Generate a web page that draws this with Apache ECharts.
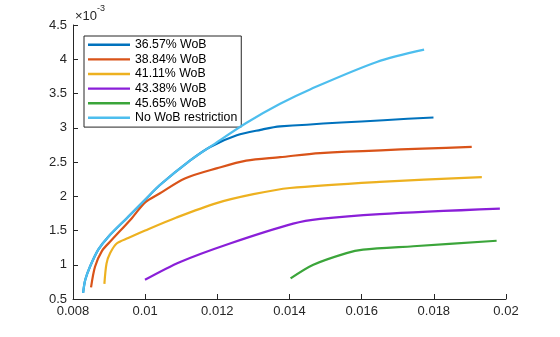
<!DOCTYPE html>
<html>
<head>
<meta charset="utf-8">
<script src="https://cdn.jsdelivr.net/npm/echarts@6/dist/echarts.min.js"></script>
<style>html,body{margin:0;padding:0;background:#fff}#c{width:560px;height:337px}</style>
</head>
<body>
<div id="c"></div>
<script>
// values on y are in units of 1e-3 (axis shows x10^-3)
const seriesNames = ['36.57% WoB','38.84% WoB','41.11% WoB','43.38% WoB','45.65% WoB','No WoB restriction'];
const seriesColors = ['#0072BD','#D95319','#EDB120','#8A1FD8','#3BA53A','#4DBEEE'];

const wob3657 = [[0.00828,0.59],[0.00834,0.78],[0.00847,0.97],[0.0087,1.22],[0.00898,1.41],[0.00953,1.70],[0.0100,1.95],[0.0104,2.16],[0.01124,2.52],[0.0118,2.72],[0.01254,2.89],[0.0132,2.97],[0.01374,3.02],[0.01799,3.15]];
const wob3884 = [[0.0085,0.67],[0.00861,0.97],[0.0088,1.20],[0.00907,1.36],[0.00963,1.68],[0.0100,1.91],[0.0104,2.04],[0.0111,2.26],[0.0120,2.41],[0.0128,2.52],[0.01374,2.57],[0.01485,2.63],[0.01905,2.72]];
const wob4111 = [[0.00887,0.72],[0.00893,1.02],[0.00903,1.17],[0.00921,1.31],[0.00953,1.39],[0.0100,1.50],[0.01087,1.69],[0.01198,1.90],[0.0130,2.03],[0.01401,2.12],[0.0165,2.21],[0.01933,2.28]];
const wob4338 = [[0.009995,0.78],[0.01097,1.04],[0.01235,1.31],[0.0141,1.60],[0.01485,1.67],[0.0165,1.74],[0.01983,1.82]];
const wob4565 = [[0.01403,0.80],[0.01466,1.0],[0.01558,1.17],[0.01604,1.22],[0.01743,1.27],[0.01974,1.35]];
const noRestriction = [[0.00828,0.59],[0.00834,0.78],[0.00847,0.97],[0.0087,1.22],[0.00898,1.41],[0.00953,1.70],[0.0100,1.95],[0.0104,2.16],[0.01124,2.52],[0.01188,2.75],[0.0128,3.07],[0.01374,3.35],[0.01457,3.56],[0.01642,3.96],[0.01773,4.14]];

const allData = [wob3657, wob3884, wob4111, wob4338, wob4565, noRestriction];
const xTicks = {min:0.008, max:0.02, interval:0.002};
const yTicks = {min:0.5, max:4.5, interval:0.5};

const font = 'Liberation Sans, Arial, Helvetica, sans-serif';
const ink = '#262626';

const chart = echarts.init(document.getElementById('c'), null, {renderer:'canvas'});
chart.setOption({
  animation:false,
  backgroundColor:'#fff',
  textStyle:{fontFamily:font},
  grid:{left:73, right:54, top:25, bottom:38},
  xAxis:{
    type:'value', min:xTicks.min, max:xTicks.max, interval:xTicks.interval,
    axisLine:{show:true, lineStyle:{color:ink, width:1}},
    axisTick:{show:true, inside:true, length:5, lineStyle:{color:ink}},
    splitLine:{show:false},
    axisLabel:{color:ink, fontSize:13, fontFamily:font, margin:6,
      formatter:v=>String(+v.toFixed(3))}
  },
  yAxis:{
    type:'value', min:yTicks.min, max:yTicks.max, interval:yTicks.interval,
    axisLine:{show:true, lineStyle:{color:ink, width:1}},
    axisTick:{show:true, inside:true, length:5, lineStyle:{color:ink}},
    splitLine:{show:false},
    axisLabel:{color:ink, fontSize:13, fontFamily:font, margin:6,
      formatter:v=>String(+v.toFixed(1))}
  },
  legend:{
    left:84, top:36, orient:'vertical',
    data:seriesNames.map(n=>({name:n, icon:'rect'})),
    itemWidth:42, itemHeight:2.4, itemGap:0,
    padding:[1.5,4,2,4],
    borderColor:ink, borderWidth:1, backgroundColor:'#fff',
    textStyle:{fontSize:12.3, color:'#000', fontFamily:font, lineHeight:14.6},
    itemTextGap:5
  },
  graphic:[{
    type:'text', left:75, top:4,
    style:{
      text:'{a|×10}{b|-3}',
      rich:{
        a:{fontSize:13, fill:ink, fontFamily:font, padding:[6,0,0,0]},
        b:{fontSize:9, fill:ink, fontFamily:font, verticalAlign:'top', padding:[0,0,6,0]}
      }
    }
  }],
  series: seriesNames.map((n,i)=>({
    name:n, type:'line', data:allData[i], symbol:'none',
    smooth:0.3,
    lineStyle:{color:seriesColors[i], width:2.2},
    itemStyle:{color:seriesColors[i]},
    z: i
  }))
});
</script>
</body>
</html>
